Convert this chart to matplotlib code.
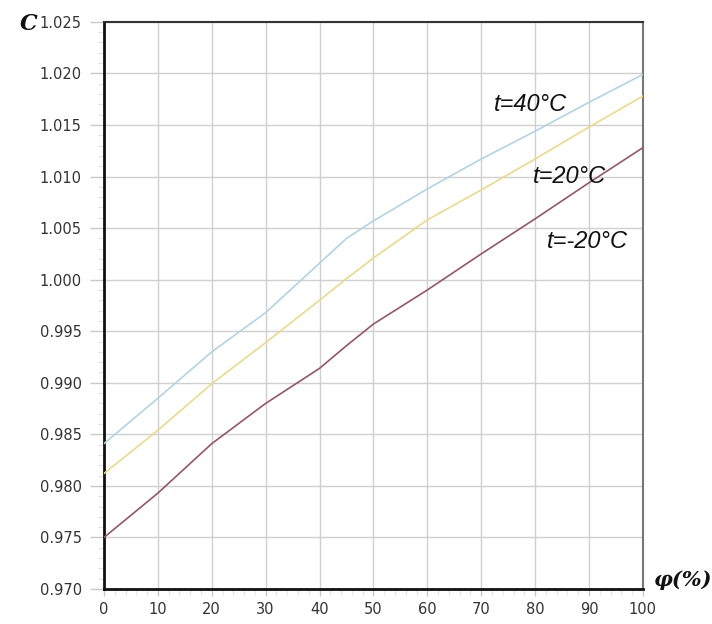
import matplotlib
matplotlib.use("Agg")
import matplotlib.pyplot as plt
from matplotlib.ticker import MultipleLocator, FormatStrFormatter

# humidity (%) and correction factor C
phi = [0, 10, 20, 30, 40, 45, 50, 60, 70, 80, 90, 100]
c_40 = [0.9841, 0.9885, 0.9930, 0.9968, 1.0016, 1.0040, 1.0057, 1.0088, 1.0117, 1.0144, 1.0172, 1.0199]
c_20 = [0.9812, 0.9854, 0.9899, 0.9939, 0.9980, 1.0001, 1.0021, 1.0058, 1.0087, 1.0117, 1.0148, 1.0178]
c_m20 = [0.9750, 0.9793, 0.9841, 0.9880, 0.9914, 0.9936, 0.9957, 0.9990, 1.0025, 1.0059, 1.0094, 1.0128]

labels = ["t=40°C", "t=20°C", "t=-20°C"]
label_pos = [(72.3, 1.0170), (79.6, 1.0100), (82.2, 1.0037)]
colors = ["#b3d3e3", "#ead98f", "#93566a"]

fig = plt.figure(figsize=(7.12, 6.24), dpi=100)
ax = fig.add_axes([0.146, 0.056, 0.757, 0.909])

for ys, col in zip([c_40, c_20, c_m20], colors):
    ax.plot(phi, ys, color=col, lw=1.2, zorder=3)

for txt, (x, y) in zip(labels, label_pos):
    ax.text(x, y, txt, fontsize=17, style="italic", family="Liberation Sans",
            color="#111111", ha="left", va="center", zorder=4)

ax.set_xlim(0, 100)
ax.set_ylim(0.970, 1.025)
ax.xaxis.set_major_locator(MultipleLocator(10))
ax.xaxis.set_minor_locator(MultipleLocator(2))
ax.yaxis.set_major_locator(MultipleLocator(0.005))
ax.yaxis.set_minor_locator(MultipleLocator(0.001))
ax.yaxis.set_major_formatter(FormatStrFormatter("%.3f"))

ax.grid(True, which="major", color="#d0d0d0", lw=1.0, zorder=0)
ax.tick_params(which="major", width=1, color="#c8c8c8",
               labelsize=10.5, labelcolor="#333333")
ax.tick_params(axis="y", which="major", length=10, pad=6)
ax.tick_params(axis="x", which="major", length=5, pad=4)
ax.tick_params(which="minor", length=4, width=0.8, color="#e4e4e4")

for side in ["left", "bottom"]:
    ax.spines[side].set_color("#111111")
    ax.spines[side].set_linewidth(2)
ax.spines["top"].set_color("#333333")
ax.spines["top"].set_linewidth(1.5)
ax.spines["right"].set_color("#777777")
ax.spines["right"].set_linewidth(1.5)

fig.text(0.028, 0.962, "C", fontsize=16, family="DejaVu Serif",
         style="italic", weight="bold", color="#111111", ha="left", va="center")
fig.text(0.919, 0.070, "φ(%)", fontsize=15, family="DejaVu Serif",
         style="italic", weight="bold", color="#111111", ha="left", va="center")

fig.savefig("out.png", dpi=100)
